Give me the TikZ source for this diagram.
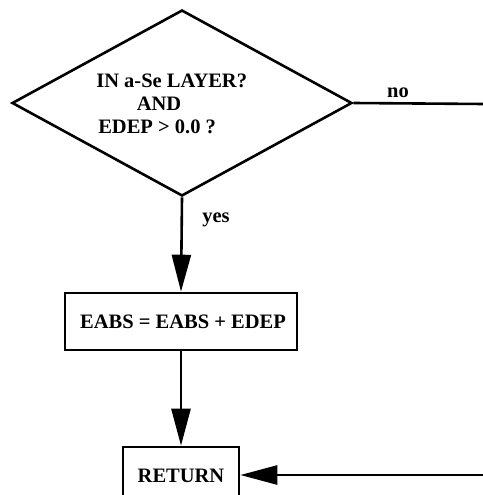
\documentclass[tikz,border=0pt]{standalone}
\usepackage{fontspec}
\setmainfont{Liberation Serif}
\usetikzlibrary{arrows.meta,shapes.geometric}
\begin{document}
\begin{tikzpicture}[x=1pt,y=-1pt,
  line width=2.6pt,
  txt/.style={font=\fontsize{20.5}{22}\selectfont\bfseries, inner sep=0pt},
  procbox/.style={draw, rectangle, inner sep=0pt},
  decision/.style={draw, diamond, inner sep=0pt, minimum width=340pt, minimum height=186pt},
  flow/.style={-{Triangle[length=37pt,width=19pt]}},
]
\useasboundingbox (0,0) rectangle (482,495);
\node[decision] (dec) at (182,103) {};
\node[txt, anchor=base west] (t1) at (95,88) {IN a-Se LAYER?};
\node[txt, anchor=base] (t2) at (159,110) {AND};
\node[txt, anchor=base west] (t3) at (97,133) {EDEP > 0.0 ?};
\node[procbox, minimum width=232pt, minimum height=57pt] (eabs) at (181,321.5) {};
\node[txt, anchor=base] (eabst) at (183,328) {EABS = EABS + EDEP};
\node[procbox, minimum width=116pt, minimum height=56pt] (ret) at (181,475) {};
\node[txt, anchor=base] (rett) at (181,482) {RETURN};
\coordinate (noend) at (484,104);
\coordinate (retin) at (484,475);
\draw (dec.east) -- (noend);
\node[txt, anchor=base] (no) at (398,97) {no};
\draw[flow] (dec.south) -- (eabs.north);
\node[txt, anchor=base] (yes) at (216,222) {yes};
\draw[flow] (eabs.south) -- (ret.north);
\draw[flow] (retin) -- (ret.east);
\end{tikzpicture}
\end{document}
